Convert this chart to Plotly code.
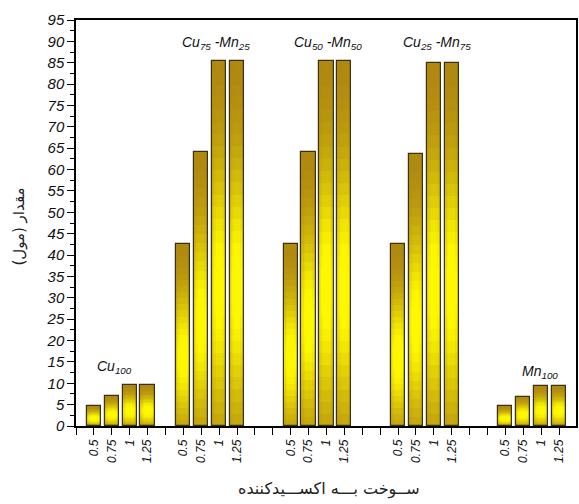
import plotly.graph_objects as go
import math

# ---- data ----
groups = ["Cu100", "Cu75-Mn25", "Cu50-Mn50", "Cu25-Mn75", "Mn100"]
ratios = ["0.5", "0.75", "1", "1.25"]
cu100 = [4.7, 7.1, 9.5, 9.5]
cu75_mn25 = [42.7, 64.2, 85.5, 85.5]
cu50_mn50 = [42.6, 64.0, 85.3, 85.3]
cu25_mn75 = [42.5, 63.7, 85.0, 85.0]
mn100 = [4.6, 6.9, 9.3, 9.3]
series = [cu100, cu75_mn25, cu50_mn50, cu25_mn75, mn100]
group_labels = ["<i>Cu<sub>100</sub></i>", "<i>Cu<sub>75</sub> -Mn<sub>25</sub></i>",
                "<i>Cu<sub>50</sub> -Mn<sub>50</sub></i>", "<i>Cu<sub>25</sub> -Mn<sub>75</sub></i>",
                "<i>Mn<sub>100</sub></i>"]
y_title = "مقدار (مول)"
x_title = "ســوخت بـــه اکســـیدکننده"

# ---- layout of slots (empty slots between groups) ----
gaps_after = [1, 2, 2, 2, 0]
xs, ys, texts = [], [], []
group_centers = []
pos = 1
for g, vals in enumerate(series):
    gx = [pos + i for i in range(len(vals))]
    xs += gx
    ys += vals
    texts += ratios
    group_centers.append(sum(gx) / len(gx))
    pos += len(vals) + gaps_after[g]
n_slots = pos

tickvals = list(range(0, n_slots + 1))
ticktext = [texts[xs.index(t)] if t in xs else "" for t in tickvals]

# ---- gradient bars ----
dark = (165, 122, 18)
bright = (253, 248, 0)

def mix(f):
    return "rgb(%d,%d,%d)" % tuple(round(d + (b - d) * f) for d, b in zip(dark, bright))

N = 30
layers = [(0.8, 0.6), (0.7, 0.8), (0.56, 0.92), (0.36, 1.0)]
fig = go.Figure()
for width, fh in layers:
    for k in range(N - 1, -1, -1):
        t = (k + 0.5) / N
        bv = math.exp(-((t - 0.38) / 0.33) ** 2)
        color = mix(min(1.0, 0.08 + bv * fh))
        fig.add_trace(go.Bar(
            x=xs, y=[v * (k + 1) / N for v in ys], width=width,
            marker=dict(color=color, line=dict(width=0)),
            hoverinfo="skip", showlegend=False))
# outline
fig.add_trace(go.Bar(
    x=xs, y=ys, width=0.8,
    marker=dict(color="rgba(0,0,0,0)", line=dict(color="#3a3016", width=1.2)),
    hoverinfo="skip", showlegend=False))

# ---- group labels ----
label_dx = [-0.35, 0.3, 0.6, 0.7, 0.45]
label_y = [13.8, 89.6, 89.6, 89.6, 12.6]
for c, lab, dx, ly in zip(group_centers, group_labels, label_dx, label_y):
    fig.add_annotation(x=c + dx, y=ly, text=lab, showarrow=False,
                       font=dict(family="Liberation Sans, Arial", size=14, color="#111"))

fig.add_annotation(xref="paper", yref="paper", x=-0.135, y=0.49, text=y_title,
                   textangle=-90, showarrow=False,
                   font=dict(family="DejaVu Sans, Noto Sans", size=15, color="#222"))
fig.add_annotation(xref="paper", yref="paper", x=0.505, y=-0.185, text=x_title,
                   showarrow=False,
                   font=dict(family="DejaVu Sans, Noto Sans", size=16, color="#222"))

fig.update_layout(
    width=579, height=504,
    margin=dict(l=76, r=1, t=20, b=78),
    plot_bgcolor="white", paper_bgcolor="white",
    barmode="overlay", bargap=0,
    xaxis=dict(range=[0, n_slots - 0.05], tickmode="array", tickvals=tickvals, ticktext=ticktext,
               tickangle=-90, ticks="outside", ticklen=7, tickwidth=1.2, tickcolor="black",
               showline=True, linecolor="black", linewidth=1.5, mirror=True,
               showgrid=False, zeroline=False,
               tickfont=dict(family="Liberation Sans, Arial", size=12, color="#111", style="italic")),
    yaxis=dict(range=[0, 95], dtick=5, tick0=0, ticks="outside", ticklen=7, tickwidth=1.2,
               tickcolor="black",
               minor=dict(dtick=2.5, ticks="outside", ticklen=4, tickcolor="black", tickwidth=1),
               showline=True, linecolor="black", linewidth=1.5, mirror=True,
               showgrid=False, zeroline=False,
               tickfont=dict(family="Liberation Sans, Arial", size=15, color="#111", style="italic")),
)

fig.write_html("out.html")
